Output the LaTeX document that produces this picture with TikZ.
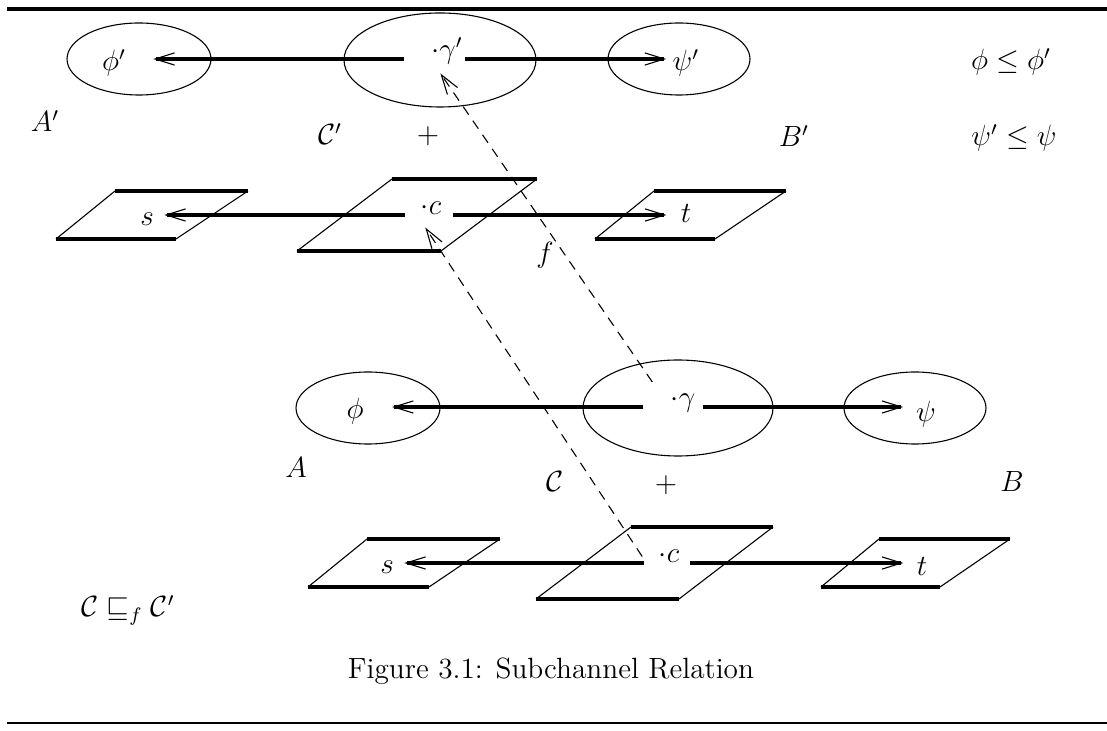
\documentclass[tikz,border=0pt,12pt]{standalone}
\usepackage{amssymb}
\usetikzlibrary{arrows.meta}
\begin{document}
\begin{tikzpicture}[x=0.41pt,y=-0.41pt,
  font=\fontsize{12}{14.5}\selectfont,
  ell/.style={draw, line width=0.45pt},
  pedge/.style={line width=1.3pt},
  pside/.style={line width=0.45pt},
  arr/.style={line width=1.3pt, -{Straight Barb[length=8pt,width=5pt,line width=0.45pt]}},
  fmap/.style={line width=0.45pt, dash pattern=on 4pt off 3pt, -{Straight Barb[length=8pt,width=5pt,line width=0.45pt]}},
  lbl/.style={inner sep=0pt},
  mid/.style={inner sep=0pt, anchor=base},
]
\useasboundingbox (0,0) rectangle (1107,731);
% rules
\draw[line width=1.35pt] (7,9) -- (1107,9);
\draw[line width=0.5pt] (7,723) -- (1107,723);

% ---------- upper (primed) channel ----------
\draw[ell] (139,59) ellipse [x radius=72, y radius=36];
\draw[ell] (440,60) ellipse [x radius=96, y radius=47];
\draw[ell] (679,59) ellipse [x radius=71, y radius=36];
\node[lbl] (php) at (114,63) {$\phi'$};
\node[mid] (gp) at (447,59) {$\cdot\gamma'$};
\node[lbl] (psp) at (686,63) {$\psi'$};
\draw[arr, shorten <=10.9pt, shorten >=11pt] (gp.base west) -- (gp.base west -| php.east);
\draw[arr, shorten <=0.6pt, shorten >=2.5pt] (gp.base east) -- (gp.base east -| psp.west);

% parallelograms (upper)
\draw[pedge] (115,191) -- (248,191);
\draw[pedge] (56,239) -- (176,239);
\draw[pside] (56,239) -- (115,191);
\draw[pside] (176,239) -- (248,191);
\draw[pedge] (392,179) -- (537,179);
\draw[pedge] (297,251) -- (441,251);
\draw[pside] (297,251) -- (392,179);
\draw[pside] (441,251) -- (537,179);
\draw[pedge] (654,191) -- (786,191);
\draw[pedge] (595,239) -- (715,239);
\draw[pside] (595,239) -- (654,191);
\draw[pside] (715,239) -- (786,191);
\node[lbl] (sp) at (147,219) {$s$};
\node[mid] (cp) at (431,215) {$\cdot c$};
\node[lbl] (tp) at (686,214) {$t$};
\draw[arr, shorten <=6.4pt, shorten >=4.1pt] (cp.base west) -- (cp.base west -| sp.east);
\draw[arr, shorten <=4.7pt, shorten >=5.7pt] (cp.base east) -- (cp.base east -| tp.west);

\node[lbl] (Ap) at (45,121) {$A'$};
\node[lbl] (Cp) at (330,134) {$\mathcal{C}'$};
\node[lbl] (plusp) at (428,136) {$+$};
\node[lbl] (Bp) at (794,136) {$B'$};
\node[lbl] (rel1) at (1011,62) {$\phi \le \phi'$};
\node[lbl] (rel2) at (1014,138) {$\psi' \le \psi$};

% ---------- lower channel ----------
\draw[ell] (368,408) ellipse [x radius=72, y radius=36];
\draw[ell] (678,408) ellipse [x radius=95, y radius=48];
\draw[ell] (915,408) ellipse [x radius=71, y radius=36];
\node[lbl] (ph) at (355,411) {$\phi$};
\node[mid] (g) at (683,407) {$\cdot\gamma$};
\node[lbl] (ps) at (926,414) {$\psi$};
\draw[arr, shorten <=11pt, shorten >=11.5pt] (g.base west) -- (g.base west -| ph.east);
\draw[arr, shorten <=2.9pt, shorten >=5.1pt] (g.base east) -- (g.base east -| ps.west);

\draw[pedge] (367,539) -- (500,539);
\draw[pedge] (308,587) -- (429,587);
\draw[pside] (308,587) -- (367,539);
\draw[pside] (429,587) -- (500,539);
\draw[pedge] (631,527) -- (773,527);
\draw[pedge] (536,599) -- (679,599);
\draw[pside] (536,599) -- (631,527);
\draw[pside] (679,599) -- (773,527);
\draw[pedge] (879,539) -- (1010,539);
\draw[pedge] (821,587) -- (940,587);
\draw[pside] (821,587) -- (879,539);
\draw[pside] (940,587) -- (1010,539);
\node[lbl] (s) at (387,567) {$s$};
\node[mid] (c) at (669,563) {$\cdot c$};
\node[lbl] (t) at (922,567) {$t$};
\draw[arr, shorten <=6pt, shorten >=4.1pt] (c.base west) -- (c.base west -| s.east);
\draw[arr, shorten <=4.3pt, shorten >=5.3pt] (c.base east) -- (c.base east -| t.west);

\node[lbl] (A) at (296,468) {$A$};
\node[lbl] (C) at (555,482) {$\mathcal{C}$};
\node[lbl] (plus) at (666,485) {$+$};
\node[lbl] (B) at (1012,482) {$B$};
\node[lbl] (sub) at (128,610) {$\mathcal{C} \sqsubseteq_f \mathcal{C}'$};

% ---------- the map f ----------
\draw[fmap, shorten <=5.7pt, shorten >=4.1pt] ([xshift=-4.1pt]g.north west) -- ([xshift=1.6pt]gp.south west);
\draw[fmap, shorten >=5.9pt] ([xshift=-6.6pt]c.west) -- ([xshift=-1.2pt]cp.south west);
\node[lbl] (f) at (545,255) {$f$};

% caption
\node[lbl] (cap) at (551,671) {Figure 3.1: Subchannel Relation};
\end{tikzpicture}
\end{document}
